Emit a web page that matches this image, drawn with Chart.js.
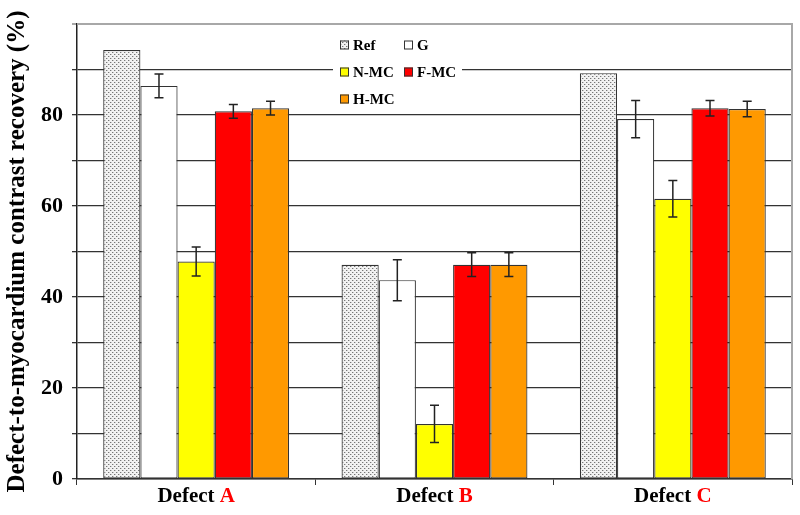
<!DOCTYPE html>
<html>
<head>
<meta charset="utf-8">
<script src="https://cdn.jsdelivr.net/npm/chart.js@4"></script>
<style>
  html, body { margin: 0; padding: 0; background: #fff; }
  #wrap { width: 800px; height: 515px; }
</style>
</head>
<body>
<div id="wrap"><canvas id="myChart" width="800" height="515"></canvas></div>
<script>
// data
const categories = ["Defect A", "Defect B", "Defect C"];
const seriesNames = ["Ref", "G", "N-MC", "F-MC", "H-MC"];
const refVals = [94.3, 47.1, 89.2];
const gVals = [86.4, 43.7, 79.1];
const gErr = [2.6, 4.5, 4.1];
const nmcVals = [47.8, 12.1, 61.6];
const nmcErr = [3.2, 4.1, 4.0];
const fmcVals = [80.8, 47.1, 81.5];
const fmcErr = [1.5, 2.6, 1.7];
const hmcVals = [81.5, 47.1, 81.3];
const hmcErr = [1.5, 2.6, 1.7];
const yTicks = [0, 20, 40, 60, 80];

const serif = "'Liberation Serif', 'DejaVu Serif', serif";

// dotted fill for the Ref bars
function makeDots() {
  let c = document.createElement("canvas");
  c.width = 4;
  c.height = 4;
  let g = c.getContext("2d");
  g.fillStyle = "#f2f2f2";
  g.fillRect(0, 0, 4, 4);
  g.fillStyle = "#777";
  g.fillRect(0, 0, 1, 1);
  g.fillRect(2, 2, 1, 1);
  g.fillStyle = "#c8c8c8";
  g.fillRect(1, 0, 1, 1);
  g.fillRect(3, 2, 1, 1);
  return document.getElementById("myChart").getContext("2d").createPattern(c, "repeat");
}
const dots = makeDots();

const fills = [dots, "#ffffff", "#ffff00", "#ff0000", "#ff9900"];
const allVals = [refVals, gVals, nmcVals, fmcVals, hmcVals];
const allErr = [null, gErr, nmcErr, fmcErr, hmcErr];

const errorBars = {
  id: "errorBars",
  afterDatasetsDraw(chart) {
    let ctx = chart.ctx;
    let y = chart.scales.y;
    ctx.save();
    ctx.strokeStyle = "#222";
    ctx.lineWidth = 1.5;
    chart.data.datasets.forEach((ds, di) => {
      let err = allErr[di];
      if (!err) return;
      let meta = chart.getDatasetMeta(di);
      meta.data.forEach((bar, i) => {
        let top = y.getPixelForValue(ds.data[i] + err[i]);
        let bot = y.getPixelForValue(ds.data[i] - err[i]);
        let x = bar.x;
        ctx.beginPath();
        ctx.moveTo(x, top); ctx.lineTo(x, bot);
        ctx.moveTo(x - 4.5, top); ctx.lineTo(x + 4.5, top);
        ctx.moveTo(x - 4.5, bot); ctx.lineTo(x + 4.5, bot);
        ctx.stroke();
      });
    });
    ctx.restore();
  }
};

const frame = {
  id: "frame",
  beforeDatasetsDraw(chart) {
    let a = chart.chartArea;
    let ctx = chart.ctx;
    ctx.save();
    ctx.strokeStyle = "#a8a8a8";
    ctx.lineWidth = 2;
    ctx.beginPath();
    ctx.moveTo(a.left, a.top); ctx.lineTo(a.right, a.top); ctx.lineTo(a.right, a.bottom);
    ctx.stroke();
    ctx.restore();
  }
};

const boxLegend = {
  id: "boxLegend",
  afterDatasetsDraw(chart) {
    let ctx = chart.ctx;
    ctx.save();
    ctx.fillStyle = "#fff";
    ctx.fillRect(333, 29, 129, 82);
    let spots = [[340, 45], [404, 45], [340, 72], [404, 72], [340, 99]];
    ctx.font = "bold 15px " + serif;
    ctx.textBaseline = "middle";
    chart.data.datasets.forEach((ds, i) => {
      let p = spots[i];
      ctx.fillStyle = fills[i];
      ctx.fillRect(p[0], p[1] - 4.5, 9, 9);
      ctx.strokeStyle = "#333";
      ctx.lineWidth = 1;
      ctx.strokeRect(p[0] + 0.5, p[1] - 4, 8, 8);
      ctx.fillStyle = "#000";
      ctx.fillText(ds.label, p[0] + 13, p[1] + 1);
    });
    ctx.restore();
  }
};

const catLabels = {
  id: "catLabels",
  afterDraw(chart) {
    let ctx = chart.ctx;
    let x = chart.scales.x;
    ctx.save();
    ctx.font = "bold 21px " + serif;
    ctx.textBaseline = "middle";
    categories.forEach((c, i) => {
      let cut = c.lastIndexOf(" ");
      let head = c.slice(0, cut + 1);
      let tail = c.slice(cut + 1);
      let w1 = ctx.measureText(head).width;
      let w2 = ctx.measureText(tail).width;
      let cx = x.getPixelForTick(i);
      let left = cx - (w1 + w2) / 2;
      ctx.fillStyle = "#000";
      ctx.textAlign = "left";
      ctx.fillText(head, left, 497);
      ctx.fillStyle = "#ff0000";
      ctx.fillText(tail, left + w1, 497);
    });
    ctx.restore();
  }
};

new Chart("myChart", {
  type: "bar",
  data: {
    labels: categories,
    datasets: seriesNames.map((name, i) => ({
      label: name,
      data: allVals[i],
      backgroundColor: fills[i],
      borderColor: "#333",
      borderWidth: 1.2,
      borderSkipped: false,
      categoryPercentage: 0.78,
      barPercentage: 1.0
    }))
  },
  plugins: [frame, errorBars, boxLegend, catLabels],
  options: {
    responsive: false,
    animation: false,
    layout: { padding: { top: 24, right: 8, left: 0, bottom: 0 } },
    plugins: {
      legend: { display: false },
      tooltip: { enabled: false }
    },
    scales: {
      x: {
        afterFit: (s) => { s.height = 36; },
        grid: {
          offset: true,
          drawOnChartArea: false,
          color: "#333",
          tickLength: 6
        },
        border: { color: "#333", width: 1.5 },
        ticks: { color: "transparent", font: { size: 20, family: serif } }
      },
      y: {
        min: 0,
        max: 100,
        afterFit: (s) => { s.width = 77; },
        grid: {
          color: (c) => (c.tick && c.tick.value === 100 ? "#a8a8a8" : "#333"),
          lineWidth: (c) => (c.tick && c.tick.value === 100 ? 2 : 1.3),
          tickLength: 5
        },
        border: { color: "#222", width: 1.5 },
        ticks: {
          stepSize: 10,
          color: "#000",
          padding: 9,
          font: { size: 22, weight: "bold", family: serif },
          callback: (v) => (yTicks.includes(v) ? v : "")
        },
        title: {
          display: true,
          text: "Defect-to-myocardium contrast recovery (%)",
          color: "#000",
          padding: { top: 3, bottom: 0 },
          font: { size: 25, weight: "bold", family: serif }
        }
      }
    }
  }
});
</script>
</body>
</html>
